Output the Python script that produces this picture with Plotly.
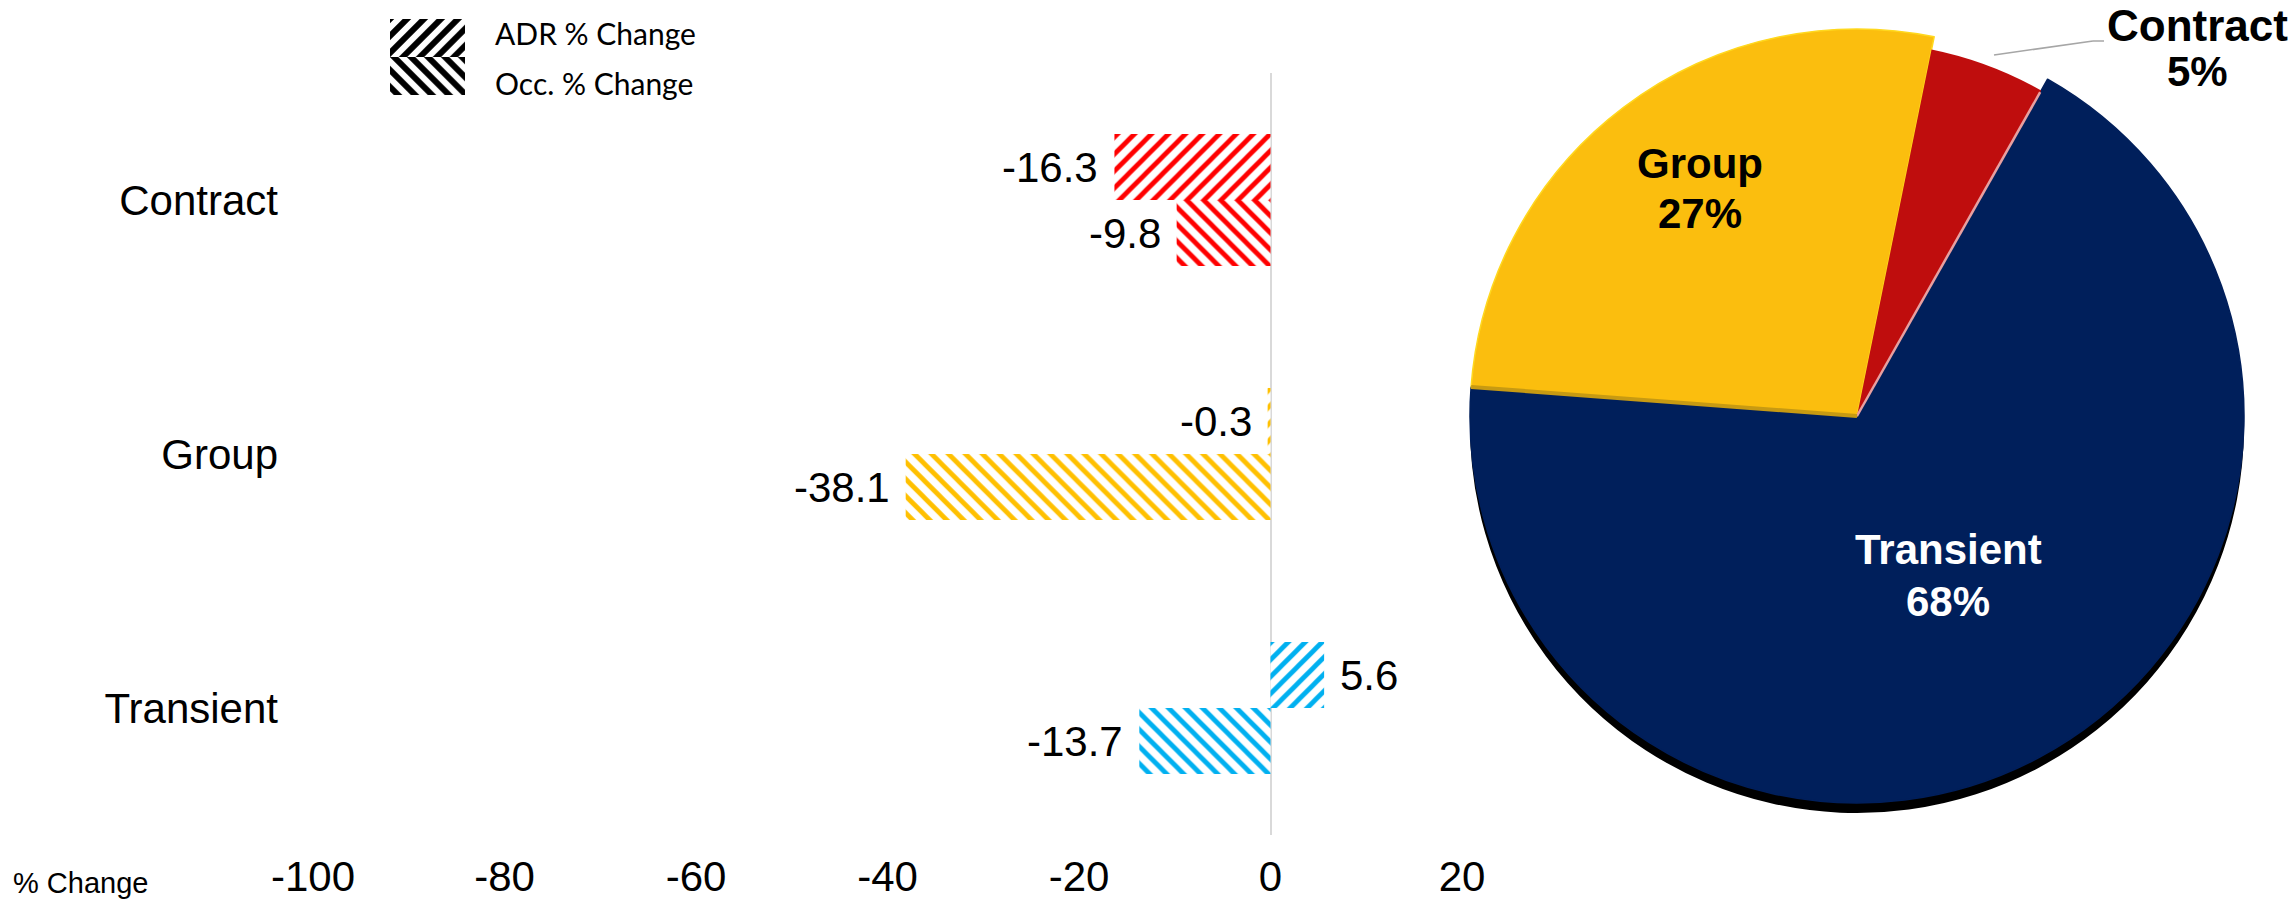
import math
import plotly.graph_objects as go

W, H = 2290, 903

categories = ["Contract", "Group", "Transient"]
adr_change = [-16.3, -0.3, 5.6]
occ_change = [-9.8, -38.1, -13.7]
bar_colors = ["#FF0000", "#FFC000", "#00B0F0"]
x_ticks = [-100, -80, -60, -40, -20, 0, 20]
x_tick_labels = ["-100", "-80", "-60", "-40", "-20", "0", "20"]
legend_labels = ["ADR % Change", "Occ. % Change"]

pie_labels = ["Transient", "Group", "Contract"]
pie_values = [68, 27, 5]
pie_colors = ["#001F5B", "#FBBE0E", "#BF0D0D"]
NONE = "rgba(0,0,0,0)"
FONT = "Liberation Sans"


def px(x):
    return x / W


def py(y):
    return 1 - y / H


def pie_dom(cx, cy, r):
    return dict(x=[px(cx - r), px(cx + r)], y=[py(cy + r), py(cy - r)])


fig = go.Figure()

PSIZE = 12
PSOL = 0.4
fig.add_trace(go.Bar(
    y=categories, x=adr_change, orientation="h", name=legend_labels[0],
    marker=dict(color="white", line_width=0,
                pattern=dict(shape="/", size=PSIZE, solidity=PSOL, fgcolor=bar_colors,
                             bgcolor="white", fgopacity=1)),
    showlegend=False))
fig.add_trace(go.Bar(
    y=categories, x=occ_change, orientation="h", name=legend_labels[1],
    marker=dict(color="white", line_width=0,
                pattern=dict(shape="\\", size=PSIZE, solidity=PSOL, fgcolor=bar_colors,
                             bgcolor="white", fgopacity=1)),
    showlegend=False))

# key swatch: a small bar chart on its own axes
fig.add_trace(go.Bar(
    y=legend_labels, x=[1, 1], orientation="h", width=1, xaxis="x2", yaxis="y2",
    marker=dict(color="white", line_width=0,
                pattern=dict(shape=["/", "\\"], size=PSIZE, solidity=0.5, fgcolor="black",
                             bgcolor="white", fgopacity=1)),
    showlegend=False))

CX, CY, R = 1857, 416, 387
ROT = 29.5
common = dict(labels=pie_labels, values=pie_values, sort=False, direction="clockwise",
              rotation=ROT, textinfo="none", showlegend=False)
# shadow below the disc
fig.add_trace(go.Pie(domain=pie_dom(CX, CY + 10, R),
                     marker=dict(colors=["black", NONE, NONE], line_width=0), **common))
# Transient and Group
fig.add_trace(go.Pie(domain=pie_dom(CX, CY, R),
                     marker=dict(colors=[pie_colors[0], pie_colors[1], NONE],
                                 line=dict(color=[pie_colors[0], "#FFD81E", NONE], width=1.5)),
                     **common))
# Contract sits slightly further back
fig.add_trace(go.Pie(domain=pie_dom(CX, CY, 374),
                     marker=dict(colors=[NONE, NONE, pie_colors[2]], line_width=0), **common))


def label(text, x, y, size, color="black", bold=False, anchor="center", family=FONT):
    fig.add_annotation(text=f"<b>{text}</b>" if bold else text, xref="paper", yref="paper",
                       x=px(x), y=py(y), xanchor=anchor, yanchor="middle", showarrow=False,
                       xshift=0, font=dict(family=family, size=size, color=color))


# value labels next to the bars
for cat, a, o in zip(categories, adr_change, occ_change):
    for v, shift in ((a, 33), (o, -33)):
        fig.add_annotation(text=f"{v:g}", x=v, y=cat, xref="x", yref="y", showarrow=False,
                           xanchor="left" if v > 0 else "right",
                           xshift=14 if v > 0 else -14, yshift=shift,
                           font=dict(family=FONT, size=42, color="black"))

pct = [f"{v}%" for v in pie_values]
label(pie_labels[0], 1948, 549, 42, "white", True)
label(pct[0], 1948, 601, 42, "white", True)
label(pie_labels[1], 1700, 163, 42, "black", True)
label(pct[1], 1700, 213, 42, "black", True)
label(pie_labels[2], 2197, 25, 44, "black", True)
label(pct[2], 2197, 71, 42, "black", True)
label(legend_labels[0], 493, 33, 30, family="Lato", anchor="left")
label(legend_labels[1], 493, 83, 30, family="Lato", anchor="left")
label("% Change", 11, 883, 29, anchor="left")


def boundary(frac, r):
    a = math.radians(ROT + 360 * frac)
    return CX + r * math.sin(a), CY - r * math.cos(a)


def seg(p, q, color, width):
    fig.add_shape(type="line", xref="paper", yref="paper", x0=px(p[0]), y0=py(p[1]),
                  x1=px(q[0]), y1=py(q[1]), line=dict(color=color, width=width))


total = sum(pie_values)
# pale seam between Contract and Transient
seg((CX, CY), boundary(1.0, 372), "#E8A0A0", 2.5)
# darker lower edge of the Group slice
seg((CX, CY), boundary(pie_values[0] / total, R), "#C79A12", 4)
# leader line to the Contract label
seg((1994, 55), (2093, 41), "#A6A6A6", 1.5)
seg((2093, 41), (2104, 41), "#A6A6A6", 1.5)

fig.update_layout(
    width=W, height=H, margin=dict(l=0, r=0, t=0, b=0, autoexpand=False),
    paper_bgcolor="white", plot_bgcolor="white",
    barmode="group", bargap=0.48, bargroupgap=0,
    xaxis=dict(domain=[px(313), px(1462)], range=[-100, 20], tickvals=x_ticks,
               ticktext=x_tick_labels, showgrid=False, showline=False, ticks="",
               zeroline=True, zerolinecolor="#D9D9D9", zerolinewidth=2, automargin=False,
               tickfont=dict(family=FONT, size=42, color="black"), ticklabelstandoff=13),
    yaxis=dict(domain=[py(835), py(73)], categoryorder="array", categoryarray=categories,
               autorange="reversed", showgrid=False, showline=False, ticks="", zeroline=False,
               automargin=False,
               tickfont=dict(family=FONT, size=42, color="black"), ticklabelstandoff=34),
    xaxis2=dict(domain=[px(390), px(465)], range=[0, 1], visible=False, anchor="y2"),
    yaxis2=dict(domain=[py(95), py(19)], autorange="reversed", visible=False, anchor="x2"),
)

fig.write_html("out.html", config=dict(displayModeBar=False), post_script=(
    "document.body.style.margin='0';document.body.style.overflow='hidden';"))
